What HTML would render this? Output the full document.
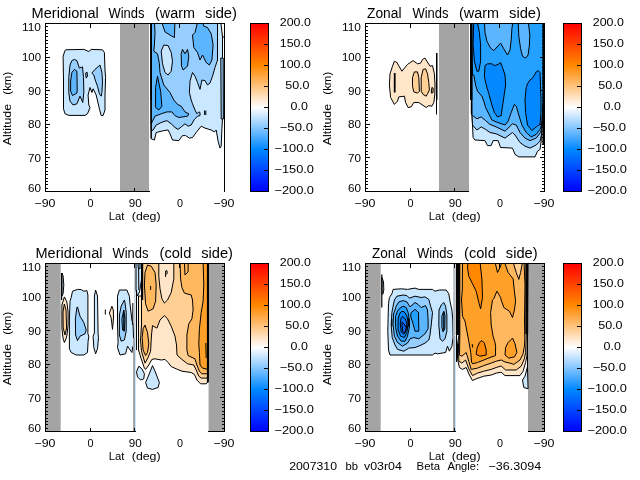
<!DOCTYPE html>
<html><head><meta charset="utf-8"><title>Winds</title>
<style>html,body{margin:0;padding:0;background:#fff;overflow:hidden}svg{display:block}</style></head>
<body>
<svg width="640" height="480" viewBox="0 0 640 480" font-family='"Liberation Sans", sans-serif' fill="#000" shape-rendering="crispEdges">
<defs><linearGradient id="cb" x1="0" y1="0" x2="0" y2="1"><stop offset="0.0000" stop-color="#ff0000"/><stop offset="0.0625" stop-color="#ff2200"/><stop offset="0.1250" stop-color="#ff4400"/><stop offset="0.1875" stop-color="#ff6600"/><stop offset="0.2500" stop-color="#ff8800"/><stop offset="0.3125" stop-color="#ffa640"/><stop offset="0.3750" stop-color="#ffc480"/><stop offset="0.4375" stop-color="#ffe1bf"/><stop offset="0.5000" stop-color="#ffffff"/><stop offset="0.5625" stop-color="#bfe1ff"/><stop offset="0.6250" stop-color="#80c4ff"/><stop offset="0.6875" stop-color="#40a6ff"/><stop offset="0.7500" stop-color="#0088ff"/><stop offset="0.8125" stop-color="#0066ff"/><stop offset="0.8750" stop-color="#0044ff"/><stop offset="0.9375" stop-color="#0022ff"/><stop offset="1.0000" stop-color="#0000ff"/></linearGradient></defs>
<rect width="640" height="480" fill="#fff"/>
<g id="p1">
<clipPath id="cp1"><rect x="45.5" y="23.5" width="179" height="168"/></clipPath>
<g clip-path="url(#cp1)" shape-rendering="auto" stroke-linejoin="round">
<rect x="120" y="23.5" width="29.00" height="168.00" fill="#a4a4a4"/>
<path d="M65.6 49.8 L83.8 49.4 L88.8 51.5 L91.2 49.4 L102.5 49.8 L104.4 52.5 L105.0 70.0 L105.6 77.5 L105.0 95.0 L105.0 110.0 L103.1 115.6 L101.2 115.6 L99.4 108.8 L96.2 95.0 L93.1 88.8 L91.9 92.5 L90.0 87.5 L88.1 95.0 L88.8 105.0 L90.0 107.5 L87.5 113.8 L85.0 115.4 L68.8 115.4 L65.0 113.8 L63.5 108.8 L63.5 80.0 L63.1 56.2 L65.0 50.6Z" fill="#c9e7ff" stroke="#000" stroke-width="1"/>
<path d="M74.4 59.4 L76.9 60.6 L79.4 68.1 L82.5 66.9 L83.5 77.5 L83.8 90.0 L83.8 92.5 L82.8 102.5 L80.0 96.2 L76.9 103.8 L73.1 105.0 L70.0 101.2 L68.8 92.5 L68.8 77.5 L70.0 65.0 L71.9 60.6Z" fill="#96cfff" stroke="#000" stroke-width="1"/>
<path d="M74.4 69.4 L76.9 71.2 L77.2 90.0 L76.9 93.1 L72.5 95.6 L70.6 91.2 L70.6 81.2 L71.9 72.5Z" fill="#5cb6ff" stroke="#000" stroke-width="1"/>
<path d="M85.6 73.1 L87.1 72.2 L87.5 76.2 L86.2 78.1Z" fill="#96cfff" stroke="#000" stroke-width="1"/>
<path d="M100.0 65.0 L101.9 72.5 L102.5 81.2 L101.9 92.5 L101.2 96.2 L99.4 93.8 L97.5 86.2 L95.6 81.2 L93.8 75.0 L91.9 73.1 L95.0 69.4Z" fill="#96cfff" stroke="#000" stroke-width="1"/>
<path d="M151.0 20.0 L222.5 20.0 L222.5 118.8 L221.9 128.8 L221.2 146.2 L220.0 148.1 L218.1 141.2 L216.2 130.0 L214.4 131.9 L211.2 130.0 L205.0 128.1 L201.2 126.2 L196.2 132.5 L192.5 137.5 L189.4 138.1 L185.6 135.6 L182.5 135.6 L178.8 140.6 L172.5 140.0 L170.0 133.8 L168.1 130.0 L163.8 130.6 L156.2 132.5 L154.4 140.0 L151.2 138.8Z" fill="#c9e7ff" stroke="#000" stroke-width="1"/>
<path d="M151.0 20.0 L217.5 20.0 L217.5 60.0 L215.0 67.5 L212.5 76.2 L210.0 83.0 L207.5 85.0 L205.0 80.6 L201.9 80.0 L200.0 89.4 L197.5 82.5 L195.0 76.2 L192.5 72.5 L190.0 81.2 L189.4 92.5 L191.2 100.0 L192.5 103.8 L195.0 110.0 L196.9 113.8 L198.8 111.9 L200.0 112.5 L200.0 115.6 L197.5 116.2 L194.4 119.4 L191.2 125.0 L188.1 126.2 L185.0 123.8 L181.2 126.9 L178.1 129.4 L175.0 127.5 L171.2 123.8 L166.9 120.6 L161.2 122.5 L156.2 125.0 L153.1 130.0 L151.2 131.2Z" fill="#96cfff" stroke="#000" stroke-width="1"/>
<path d="M151.0 20.0 L154.4 20.0 L155.0 32.5 L154.4 45.0 L153.8 51.2 L157.5 53.8 L159.4 63.8 L160.0 72.5 L163.8 85.0 L170.0 92.5 L173.8 100.0 L177.5 104.4 L181.2 106.2 L185.0 111.9 L188.8 113.8 L187.5 116.2 L178.8 117.5 L175.0 115.6 L171.9 111.9 L166.9 111.9 L161.2 113.8 L155.0 116.2 L152.5 121.2 L151.2 123.8Z" fill="#5cb6ff" stroke="#000" stroke-width="1"/>
<path d="M157.5 76.2 L160.6 91.2 L161.9 106.2 L158.8 110.0 L155.6 107.5 L155.6 87.5Z" fill="#24a0ff" stroke="#000" stroke-width="1"/>
<path d="M161.0 20.0 L175.0 20.0 L174.4 37.5 L171.9 36.2 L165.0 31.9Z" fill="#5cb6ff" stroke="#000" stroke-width="1"/>
<path d="M198.1 20.0 L195.0 32.5 L192.5 35.0 L193.8 47.5 L197.5 52.5 L200.0 60.0 L202.5 55.0 L206.2 62.5 L209.4 65.0 L211.9 60.0 L213.1 45.0 L211.2 33.8 L207.5 27.5 L203.8 26.2 L201.9 20.0Z" fill="#5cb6ff" stroke="#000" stroke-width="1"/>
<path d="M182.5 49.4 L185.0 53.8 L187.5 49.4 L188.8 56.2 L187.5 66.2 L183.1 70.0 L181.5 66.2 L181.2 53.8Z" fill="#5cb6ff" stroke="#000" stroke-width="1"/>
<path d="M163.8 45.0 L168.1 45.6 L171.2 52.5 L172.5 61.2 L171.2 71.2 L168.1 75.0 L165.0 72.5 L162.5 63.8 L161.2 51.2Z" fill="#c9e7ff" stroke="#000" stroke-width="1"/>
<path d="M204.6 110.5 L204.6 115.0" fill="none" stroke="#000" stroke-width="1"/>
<path d="M205.8 110.5 L205.8 115.0" fill="none" stroke="#000" stroke-width="1"/>
<path d="M220.6 20.0 L226.0 20.0 L226.0 37.0 L222.5 37.0Z" fill="#fff" stroke="#000" stroke-width="1"/>
<path d="M220.8 58.0 L223.2 58.0 L223.4 119.0 L221.2 119.0Z" fill="#96cfff" stroke="#000" stroke-width="1"/>
<rect x="150.2" y="23.5" width="1.80" height="76.50" fill="#000"/>
<rect x="150.6" y="100" width="1.20" height="38.50" fill="#000"/>
</g>
<path d="M45.5 191.5V23.5H224.5V191.5M45.5 191.5H149" fill="none" stroke="#000" stroke-width="1" stroke-linecap="square"/>
<path d="M45.5 23.5h4.5M45.5 26.5h2.5M45.5 30.5h2.5M45.5 33.5h2.5M45.5 36.5h2.5M45.5 40.5h2.5M45.5 43.5h2.5M45.5 47.5h2.5M45.5 50.5h2.5M45.5 53.5h2.5M45.5 57.5h4.5M45.5 60.5h2.5M45.5 63.5h2.5M45.5 67.5h2.5M45.5 70.5h2.5M45.5 73.5h2.5M45.5 77.5h2.5M45.5 80.5h2.5M45.5 83.5h2.5M45.5 87.5h2.5M45.5 90.5h4.5M45.5 94.5h2.5M45.5 97.5h2.5M45.5 100.5h2.5M45.5 104.5h2.5M45.5 107.5h2.5M45.5 110.5h2.5M45.5 114.5h2.5M45.5 117.5h2.5M45.5 120.5h2.5M45.5 124.5h4.5M45.5 127.5h2.5M45.5 131.5h2.5M45.5 134.5h2.5M45.5 137.5h2.5M45.5 141.5h2.5M45.5 144.5h2.5M45.5 147.5h2.5M45.5 151.5h2.5M45.5 154.5h2.5M45.5 157.5h4.5M45.5 161.5h2.5M45.5 164.5h2.5M45.5 167.5h2.5M45.5 171.5h2.5M45.5 174.5h2.5M45.5 178.5h2.5M45.5 181.5h2.5M45.5 184.5h2.5M45.5 188.5h2.5M45.5 191.5h4.5M90.5 23.5v4M90.5 191.5v-4M134.5 23.5v4M134.5 191.5v-4M179.5 23.5v4" stroke="#000" stroke-width="1" fill="none"/>
<text x="22.0" y="30.8" font-size="11" textLength="19.0" lengthAdjust="spacingAndGlyphs">110</text>
<text x="22.0" y="61.1" font-size="11" textLength="19.0" lengthAdjust="spacingAndGlyphs">100</text>
<text x="28.0" y="94.7" font-size="11" textLength="13.0" lengthAdjust="spacingAndGlyphs">90</text>
<text x="28.0" y="128.3" font-size="11" textLength="13.0" lengthAdjust="spacingAndGlyphs">80</text>
<text x="28.0" y="161.9" font-size="11" textLength="13.0" lengthAdjust="spacingAndGlyphs">70</text>
<text x="28.0" y="191.8" font-size="11" textLength="13.0" lengthAdjust="spacingAndGlyphs">60</text>
<text x="34.5" y="206.7" font-size="11" textLength="21.0" lengthAdjust="spacingAndGlyphs">−90</text>
<text x="87.5" y="206.7" font-size="11" textLength="6.0" lengthAdjust="spacingAndGlyphs">0</text>
<text x="128.8" y="206.7" font-size="11" textLength="13.0" lengthAdjust="spacingAndGlyphs">90</text>
<text x="177.1" y="206.7" font-size="11" textLength="6.0" lengthAdjust="spacingAndGlyphs">0</text>
<text x="213.5" y="206.7" font-size="11" textLength="21.0" lengthAdjust="spacingAndGlyphs">−90</text>
<text y="220.2" font-size="11"><tspan x="108.8" textLength="15.7" lengthAdjust="spacingAndGlyphs">Lat</tspan> <tspan x="131.8" textLength="28.8" lengthAdjust="spacingAndGlyphs">(deg)</tspan></text>
<text y="11.0" font-size="11" transform="rotate(-90)"><tspan x="-145.2" textLength="41.3" lengthAdjust="spacingAndGlyphs">Altitude</tspan> <tspan x="-94.7" textLength="22.9" lengthAdjust="spacingAndGlyphs">(km)</tspan></text>
<text y="17.6" font-size="14"><tspan x="31.6" textLength="67.2" lengthAdjust="spacingAndGlyphs">Meridional</tspan> <tspan x="108.5" textLength="36.0" lengthAdjust="spacingAndGlyphs">Winds</tspan> <tspan x="155.0" textLength="40.0" lengthAdjust="spacingAndGlyphs">(warm</tspan> <tspan x="205.0" textLength="32.0" lengthAdjust="spacingAndGlyphs">side)</tspan></text>
<rect x="250.5" y="23.5" width="18" height="168" fill="url(#cb)" stroke="#000" stroke-width="1"/>
<path d="M268.5 44.5h-5M268.5 65.5h-5M268.5 86.5h-5M268.5 107.5h-5M268.5 128.5h-5M268.5 149.5h-5M268.5 170.5h-5" stroke="#000" stroke-width="1" fill="none"/>
<text x="279.8" y="25.5" font-size="11" textLength="31.0" lengthAdjust="spacingAndGlyphs">200.0</text>
<text x="279.8" y="46.5" font-size="11" textLength="31.0" lengthAdjust="spacingAndGlyphs">150.0</text>
<text x="279.8" y="67.5" font-size="11" textLength="31.0" lengthAdjust="spacingAndGlyphs">100.0</text>
<text x="285.2" y="88.5" font-size="11" textLength="24.4" lengthAdjust="spacingAndGlyphs">50.0</text>
<text x="290.6" y="109.5" font-size="11" textLength="17.3" lengthAdjust="spacingAndGlyphs">0.0</text>
<text x="279.7" y="130.5" font-size="11" textLength="33.3" lengthAdjust="spacingAndGlyphs">−50.0</text>
<text x="274.4" y="151.5" font-size="11" textLength="39.6" lengthAdjust="spacingAndGlyphs">−100.0</text>
<text x="274.4" y="172.5" font-size="11" textLength="39.6" lengthAdjust="spacingAndGlyphs">−150.0</text>
<text x="274.4" y="193.5" font-size="11" textLength="39.6" lengthAdjust="spacingAndGlyphs">−200.0</text>
</g>
<g id="p2">
<clipPath id="cp2"><rect x="365.5" y="23.5" width="179" height="168"/></clipPath>
<g clip-path="url(#cp2)" shape-rendering="auto" stroke-linejoin="round">
<rect x="439" y="23.5" width="30.00" height="168.00" fill="#a4a4a4"/>
<path d="M394.4 61.2 L396.9 62.5 L401.9 71.2 L407.5 64.4 L413.1 60.6 L417.5 63.8 L420.6 63.1 L422.5 59.4 L425.0 58.1 L426.9 61.2 L430.0 66.2 L432.5 65.6 L434.4 73.8 L435.0 85.0 L434.8 95.0 L433.8 102.5 L431.9 106.2 L428.8 105.6 L426.2 107.5 L418.8 102.5 L413.8 102.5 L411.2 106.9 L408.1 107.5 L405.6 102.5 L404.4 96.2 L398.8 96.9 L397.5 101.2 L394.4 104.4 L390.6 97.5 L389.4 85.0 L390.0 73.8 L392.5 66.2Z" fill="#ffe6c8" stroke="#000" stroke-width="1"/>
<path d="M414.4 71.9 L417.5 71.9 L418.8 77.5 L419.4 91.2 L417.5 93.1 L413.8 91.9 L412.5 86.2 L412.5 77.5Z" fill="#ffcf94" stroke="#000" stroke-width="1"/>
<path d="M423.1 69.4 L425.6 68.8 L427.5 73.8 L428.8 82.5 L429.4 90.0 L427.5 93.8 L426.2 96.2 L423.1 94.4 L421.2 91.2 L421.2 77.5Z" fill="#ffcf94" stroke="#000" stroke-width="1"/>
<path d="M431.9 87.5 L433.1 88.1 L433.1 92.5 L431.2 93.1Z" fill="#ffcf94" stroke="#000" stroke-width="1"/>
<rect x="393.8" y="73" width="1.80" height="19.50" fill="#000"/>
<rect x="436" y="53" width="1.50" height="47.00" fill="#000"/>
<rect x="436" y="100" width="1.00" height="14.50" fill="#000"/>
<path d="M471.5 20.0 L543.5 20.0 L543.5 100.0 L541.9 125.0 L541.2 141.2 L540.0 149.4 L537.5 151.2 L535.0 156.9 L518.8 156.9 L515.0 154.4 L512.5 148.1 L500.6 147.5 L498.1 140.6 L493.1 140.6 L491.2 145.6 L487.5 145.6 L485.0 140.6 L475.0 140.0 L473.1 137.5 L472.5 125.0 L471.9 112.5Z" fill="#c9e7ff" stroke="#000" stroke-width="1"/>
<path d="M471.5 20.0 L543.5 20.0 L543.5 100.0 L541.5 135.0 L540.0 141.2 L536.2 145.0 L530.0 148.1 L525.0 146.2 L520.0 142.5 L515.0 135.0 L512.5 132.5 L505.0 138.1 L496.2 133.8 L490.0 132.5 L485.6 129.4 L481.2 126.9 L476.9 130.0 L472.5 125.0 L471.9 112.5Z" fill="#96cfff" stroke="#000" stroke-width="1"/>
<path d="M471.5 20.0 L543.5 20.0 L543.5 100.0 L541.5 128.8 L540.6 132.5 L536.2 138.1 L530.0 140.6 L525.0 138.1 L520.0 132.5 L516.2 125.0 L512.5 123.8 L505.0 131.2 L496.2 126.9 L490.0 124.4 L485.6 120.6 L481.2 116.9 L476.9 118.8 L471.9 115.0Z" fill="#5cb6ff" stroke="#000" stroke-width="1"/>
<path d="M471.5 20.0 L543.5 20.0 L543.5 100.0 L541.5 125.0 L540.0 129.4 L536.2 134.4 L531.2 136.9 L526.2 132.5 L521.9 125.0 L518.8 115.0 L516.2 106.2 L514.4 104.4 L511.2 112.5 L508.1 121.2 L505.0 125.0 L496.2 121.9 L491.9 120.0 L489.4 115.0 L485.6 107.5 L483.8 101.2 L481.9 96.2 L477.5 91.2 L475.6 85.0 L473.8 75.0 L472.5 75.0Z" fill="#24a0ff" stroke="#000" stroke-width="1"/>
<path d="M484.4 20.0 L485.0 32.5 L486.9 41.2 L490.6 48.1 L493.8 50.6 L500.6 43.1 L503.8 48.8 L507.5 55.0 L510.0 50.0 L511.2 40.0 L511.9 28.8 L513.1 20.0Z" fill="#5cb6ff" stroke="#000" stroke-width="1"/>
<path d="M518.1 20.0 L518.8 36.2 L520.6 48.8 L522.5 56.2 L525.6 58.1 L528.1 55.0 L529.4 45.0 L529.8 35.0 L528.1 20.0Z" fill="#5cb6ff" stroke="#000" stroke-width="1"/>
<path d="M473.8 20.0 L476.9 20.0 L479.4 32.5 L480.6 45.0 L480.6 61.2 L478.8 71.2 L476.9 71.2 L474.4 61.2 L473.1 45.0Z" fill="#0488ff" stroke="#000" stroke-width="1"/>
<path d="M485.0 65.6 L487.5 63.8 L491.9 63.8 L494.4 65.6 L498.1 64.4 L500.6 62.5 L502.5 67.5 L505.0 75.0 L505.6 85.0 L503.8 97.5 L502.5 106.2 L501.2 115.6 L497.5 116.9 L494.4 112.5 L491.9 105.0 L488.8 93.8 L485.6 82.5 L484.4 76.2Z" fill="#0488ff" stroke="#000" stroke-width="1"/>
<path d="M538.1 70.6 L540.0 72.5 L541.0 100.0 L541.0 112.5 L540.0 124.4 L536.2 126.9 L531.9 130.6 L527.5 125.0 L525.6 112.5 L525.0 100.0 L526.2 87.5 L527.5 83.8 L530.0 80.0 L533.1 77.5 L536.2 71.9Z" fill="#0488ff" stroke="#000" stroke-width="1"/>
<rect x="470" y="23.5" width="2.50" height="76.50" fill="#000"/>
<rect x="470.8" y="100" width="1.40" height="14.00" fill="#000"/>
<rect x="542.4" y="23.5" width="2.10" height="121.50" fill="#000"/>
</g>
<path d="M365.5 191.5V23.5H544.5V191.5M365.5 191.5H468.7" fill="none" stroke="#000" stroke-width="1" stroke-linecap="square"/>
<path d="M365.5 23.5h4.5M544.5 23.5h-4.5M365.5 26.5h2.5M544.5 26.5h-2.5M365.5 30.5h2.5M544.5 30.5h-2.5M365.5 33.5h2.5M544.5 33.5h-2.5M365.5 36.5h2.5M544.5 36.5h-2.5M365.5 40.5h2.5M544.5 40.5h-2.5M365.5 43.5h2.5M544.5 43.5h-2.5M365.5 47.5h2.5M544.5 47.5h-2.5M365.5 50.5h2.5M544.5 50.5h-2.5M365.5 53.5h2.5M544.5 53.5h-2.5M365.5 57.5h4.5M544.5 57.5h-4.5M365.5 60.5h2.5M544.5 60.5h-2.5M365.5 63.5h2.5M544.5 63.5h-2.5M365.5 67.5h2.5M544.5 67.5h-2.5M365.5 70.5h2.5M544.5 70.5h-2.5M365.5 73.5h2.5M544.5 73.5h-2.5M365.5 77.5h2.5M544.5 77.5h-2.5M365.5 80.5h2.5M544.5 80.5h-2.5M365.5 83.5h2.5M544.5 83.5h-2.5M365.5 87.5h2.5M544.5 87.5h-2.5M365.5 90.5h4.5M544.5 90.5h-4.5M365.5 94.5h2.5M544.5 94.5h-2.5M365.5 97.5h2.5M544.5 97.5h-2.5M365.5 100.5h2.5M544.5 100.5h-2.5M365.5 104.5h2.5M544.5 104.5h-2.5M365.5 107.5h2.5M544.5 107.5h-2.5M365.5 110.5h2.5M544.5 110.5h-2.5M365.5 114.5h2.5M544.5 114.5h-2.5M365.5 117.5h2.5M544.5 117.5h-2.5M365.5 120.5h2.5M544.5 120.5h-2.5M365.5 124.5h4.5M544.5 124.5h-4.5M365.5 127.5h2.5M544.5 127.5h-2.5M365.5 131.5h2.5M544.5 131.5h-2.5M365.5 134.5h2.5M544.5 134.5h-2.5M365.5 137.5h2.5M544.5 137.5h-2.5M365.5 141.5h2.5M544.5 141.5h-2.5M365.5 144.5h2.5M544.5 144.5h-2.5M365.5 147.5h2.5M544.5 147.5h-2.5M365.5 151.5h2.5M544.5 151.5h-2.5M365.5 154.5h2.5M544.5 154.5h-2.5M365.5 157.5h4.5M544.5 157.5h-4.5M365.5 161.5h2.5M544.5 161.5h-2.5M365.5 164.5h2.5M544.5 164.5h-2.5M365.5 167.5h2.5M544.5 167.5h-2.5M365.5 171.5h2.5M544.5 171.5h-2.5M365.5 174.5h2.5M544.5 174.5h-2.5M365.5 178.5h2.5M544.5 178.5h-2.5M365.5 181.5h2.5M544.5 181.5h-2.5M365.5 184.5h2.5M544.5 184.5h-2.5M365.5 188.5h2.5M544.5 188.5h-2.5M365.5 191.5h4.5M544.5 191.5h-4.5M410.5 23.5v4M410.5 191.5v-4M454.5 23.5v4M454.5 191.5v-4M499.5 23.5v4" stroke="#000" stroke-width="1" fill="none"/>
<text x="342.0" y="30.8" font-size="11" textLength="19.0" lengthAdjust="spacingAndGlyphs">110</text>
<text x="342.0" y="61.1" font-size="11" textLength="19.0" lengthAdjust="spacingAndGlyphs">100</text>
<text x="348.0" y="94.7" font-size="11" textLength="13.0" lengthAdjust="spacingAndGlyphs">90</text>
<text x="348.0" y="128.3" font-size="11" textLength="13.0" lengthAdjust="spacingAndGlyphs">80</text>
<text x="348.0" y="161.9" font-size="11" textLength="13.0" lengthAdjust="spacingAndGlyphs">70</text>
<text x="348.0" y="191.8" font-size="11" textLength="13.0" lengthAdjust="spacingAndGlyphs">60</text>
<text x="354.5" y="206.7" font-size="11" textLength="21.0" lengthAdjust="spacingAndGlyphs">−90</text>
<text x="407.6" y="206.7" font-size="11" textLength="6.0" lengthAdjust="spacingAndGlyphs">0</text>
<text x="448.8" y="206.7" font-size="11" textLength="13.0" lengthAdjust="spacingAndGlyphs">90</text>
<text x="497.1" y="206.7" font-size="11" textLength="6.0" lengthAdjust="spacingAndGlyphs">0</text>
<text x="533.5" y="206.7" font-size="11" textLength="21.0" lengthAdjust="spacingAndGlyphs">−90</text>
<text y="220.2" font-size="11"><tspan x="428.8" textLength="15.7" lengthAdjust="spacingAndGlyphs">Lat</tspan> <tspan x="451.8" textLength="28.8" lengthAdjust="spacingAndGlyphs">(deg)</tspan></text>
<text y="331.0" font-size="11" transform="rotate(-90)"><tspan x="-145.2" textLength="41.3" lengthAdjust="spacingAndGlyphs">Altitude</tspan> <tspan x="-94.7" textLength="22.9" lengthAdjust="spacingAndGlyphs">(km)</tspan></text>
<text y="17.6" font-size="14"><tspan x="367.0" textLength="34.5" lengthAdjust="spacingAndGlyphs">Zonal</tspan> <tspan x="412.5" textLength="36.0" lengthAdjust="spacingAndGlyphs">Winds</tspan> <tspan x="459.0" textLength="40.0" lengthAdjust="spacingAndGlyphs">(warm</tspan> <tspan x="509.0" textLength="32.0" lengthAdjust="spacingAndGlyphs">side)</tspan></text>
<rect x="563.5" y="23.5" width="18" height="168" fill="url(#cb)" stroke="#000" stroke-width="1"/>
<path d="M581.5 44.5h-5M581.5 65.5h-5M581.5 86.5h-5M581.5 107.5h-5M581.5 128.5h-5M581.5 149.5h-5M581.5 170.5h-5" stroke="#000" stroke-width="1" fill="none"/>
<text x="592.8" y="25.5" font-size="11" textLength="31.0" lengthAdjust="spacingAndGlyphs">200.0</text>
<text x="592.8" y="46.5" font-size="11" textLength="31.0" lengthAdjust="spacingAndGlyphs">150.0</text>
<text x="592.8" y="67.5" font-size="11" textLength="31.0" lengthAdjust="spacingAndGlyphs">100.0</text>
<text x="598.2" y="88.5" font-size="11" textLength="24.4" lengthAdjust="spacingAndGlyphs">50.0</text>
<text x="603.6" y="109.5" font-size="11" textLength="17.3" lengthAdjust="spacingAndGlyphs">0.0</text>
<text x="592.7" y="130.5" font-size="11" textLength="33.3" lengthAdjust="spacingAndGlyphs">−50.0</text>
<text x="587.4" y="151.5" font-size="11" textLength="39.6" lengthAdjust="spacingAndGlyphs">−100.0</text>
<text x="587.4" y="172.5" font-size="11" textLength="39.6" lengthAdjust="spacingAndGlyphs">−150.0</text>
<text x="587.4" y="193.5" font-size="11" textLength="39.6" lengthAdjust="spacingAndGlyphs">−200.0</text>
</g>
<g id="p3">
<clipPath id="cp3"><rect x="45.5" y="263.5" width="179" height="168"/></clipPath>
<g clip-path="url(#cp3)" shape-rendering="auto" stroke-linejoin="round">
<rect x="45" y="263.5" width="15.70" height="168.00" fill="#a4a4a4"/>
<rect x="208.6" y="263.5" width="16.40" height="168.00" fill="#a4a4a4"/>
<path d="M61.9 273.0 L63.1 276.0 L63.8 285.0 L63.1 293.8 L61.9 296.0Z" fill="#c9e7ff" stroke="#000" stroke-width="1"/>
<rect x="61" y="273" width="1.20" height="27.00" fill="#000"/>
<path d="M64.4 296.9 L66.9 302.0 L68.1 312.0 L68.1 325.0 L67.0 335.0 L65.6 340.0 L64.4 342.5 L63.0 338.0 L61.9 328.0 L61.9 305.0Z" fill="#ffe6c8" stroke="#000" stroke-width="1"/>
<path d="M64.3 304.0 L66.0 310.0 L66.6 328.0 L65.0 335.0 L63.2 328.0 L63.0 312.0Z" fill="#ffcf94" stroke="#000" stroke-width="1"/>
<path d="M77.5 289.4 L72.5 291.2 L71.2 297.5 L70.0 301.2 L69.4 320.0 L69.4 348.8 L71.2 352.5 L76.2 355.0 L83.8 355.0 L87.5 352.5 L88.1 341.2 L88.8 336.2 L87.9 333.8 L87.9 295.0 L86.9 290.6 L83.8 291.2 L81.2 289.6Z" fill="#c9e7ff" stroke="#000" stroke-width="1"/>
<path d="M77.5 306.9 L80.0 316.2 L83.8 322.5 L86.2 330.0 L85.0 333.8 L80.0 336.2 L77.5 340.6 L75.6 335.0 L75.4 318.8 L76.9 307.5Z" fill="#96cfff" stroke="#000" stroke-width="1"/>
<path d="M95.6 290.0 L97.5 296.0 L98.1 333.8 L98.5 337.5 L97.5 348.8 L95.6 353.8 L93.8 347.5 L93.1 336.2 L94.4 333.0 L94.4 296.0Z" fill="#c9e7ff" stroke="#000" stroke-width="1"/>
<path d="M111.9 306.2 L113.3 310.0 L113.5 318.0 L112.5 329.4 L111.2 318.0 L109.4 313.1Z" fill="#ffe6c8" stroke="#000" stroke-width="1"/>
<path d="M105.3 309.5 L105.3 314.5" fill="none" stroke="#000" stroke-width="1"/>
<path d="M119.4 290.0 L126.9 290.0 L129.4 296.2 L130.0 303.8 L131.9 320.0 L133.1 325.0 L133.8 345.0 L132.8 346.9 L131.9 352.5 L129.4 348.8 L127.5 346.2 L125.6 353.8 L120.0 355.0 L117.5 347.5 L118.1 342.5 L117.5 325.0 L117.5 300.0 L117.5 296.2Z" fill="#c9e7ff" stroke="#000" stroke-width="1"/>
<path d="M124.4 300.0 L125.0 302.5 L126.2 312.5 L126.2 331.2 L124.4 340.0 L121.2 341.2 L119.4 335.0 L119.4 315.0 L121.2 306.2Z" fill="#96cfff" stroke="#000" stroke-width="1"/>
<path d="M123.8 310.0 L125.0 318.8 L124.4 331.2 L122.5 330.0 L121.9 318.8Z" fill="#5cb6ff" stroke="#000" stroke-width="1"/>
<rect x="123.2" y="311" width="1.10" height="20.00" fill="#000"/>
<path d="M132.8 303.0 L132.8 325.0" fill="none" stroke="#000" stroke-width="1"/>
<rect x="134" y="263.5" width="1.60" height="74.50" fill="#c4d0dc"/>
<rect x="133" y="338" width="2.00" height="93.50" fill="#a4a4a4"/>
<rect x="135" y="338" width="1.00" height="93.50" fill="#c4e4ff"/>
<path d="M136.0 262.0 L141.5 262.0 L141.5 280.0 L139.5 292.0 L137.5 296.0 L136.0 290.0Z" fill="#c9e7ff" stroke="#000" stroke-width="1"/>
<path d="M138.0 262.0 L140.0 262.0 L140.0 268.8 L138.2 268.0Z" fill="#96cfff" stroke="#000" stroke-width="1"/>
<path d="M138.6 268.0 L138.8 290.0" fill="none" stroke="#000" stroke-width="1"/>
<path d="M136.5 290.0 L136.5 350.0" fill="none" stroke="#000" stroke-width="1"/>
<path d="M142.5 262.0 L208.1 262.0 L208.1 381.2 L206.2 383.8 L200.6 383.8 L196.9 380.0 L194.4 374.4 L191.2 372.5 L181.9 371.2 L176.2 368.8 L171.2 366.6 L168.1 362.5 L165.0 359.4 L161.2 360.0 L155.0 358.8 L151.9 359.4 L148.8 365.0 L145.6 369.4 L144.4 368.1 L141.2 358.8 L138.5 350.0 L138.5 337.5 L138.5 296.0 L142.5 296.0Z" fill="#ffe6c8" stroke="#000" stroke-width="1"/>
<path d="M141.5 262.0 L208.0 262.0 L208.0 378.1 L201.2 378.1 L198.8 376.2 L196.2 370.0 L193.8 365.0 L187.5 363.8 L181.2 358.8 L177.0 355.0 L176.5 345.0 L175.0 336.2 L171.2 326.2 L167.5 318.8 L164.4 315.6 L160.0 320.0 L156.9 328.1 L152.5 325.6 L151.5 335.0 L151.2 340.0 L150.6 351.2 L148.1 357.5 L145.0 363.1 L141.5 351.2 L140.5 340.0 L141.5 325.0 L141.5 262.0Z" fill="#ffcf94" stroke="#000" stroke-width="1"/>
<path d="M158.8 262.0 L173.8 262.0 L173.8 278.8 L171.2 292.5 L167.5 300.0 L164.4 303.1 L161.9 298.8 L160.0 288.8 L158.8 276.2Z" fill="#ffe6c8" stroke="#000" stroke-width="1"/>
<path d="M165.6 277.0 L165.6 271.0 L167.0 270.6 L167.2 273.5 L165.8 274.5" fill="none" stroke="#000" stroke-width="1"/>
<path d="M180.0 262.0 L180.6 278.8 L181.9 287.5 L184.4 293.1 L191.2 295.0 L192.5 300.0 L193.1 310.0 L191.9 318.8 L188.8 323.8 L186.9 335.0 L186.9 350.0 L188.1 355.6 L195.0 358.8 L196.9 365.0 L199.4 371.2 L201.9 373.8 L208.0 373.8 L208.0 262.0Z" fill="#ffb85e" stroke="#000" stroke-width="1"/>
<path d="M184.4 262.0 L185.0 275.0 L188.1 271.9 L188.1 262.0Z" fill="#ffb85e" stroke="#000" stroke-width="1"/>
<path d="M203.1 262.0 L203.8 285.0 L203.1 301.2 L201.2 312.5 L199.4 328.8 L198.8 343.8 L199.4 352.5 L200.0 365.0 L202.5 368.1 L208.0 369.4 L208.0 262.0Z" fill="#ffa028" stroke="#000" stroke-width="1"/>
<path d="M205.8 343.0 L206.2 358.0" fill="none" stroke="#000" stroke-width="1"/>
<path d="M147.5 265.0 L151.2 266.2 L155.0 272.5 L156.2 285.0 L155.6 301.2 L153.1 308.8 L148.1 311.2 L145.6 303.8 L144.4 285.0 L145.0 272.5Z" fill="#ffb85e" stroke="#000" stroke-width="1"/>
<path d="M150.6 286.0 L150.6 290.0" fill="none" stroke="#000" stroke-width="1"/>
<path d="M145.0 325.0 L147.5 332.5 L148.8 343.8 L147.5 352.5 L145.6 355.6 L143.1 350.0 L142.2 337.5 L143.1 328.8Z" fill="#ffb85e" stroke="#000" stroke-width="1"/>
<rect x="141.2" y="263.5" width="2.00" height="36.50" fill="#000"/>
<rect x="206.9" y="263.5" width="1.85" height="119.00" fill="#000"/>
<path d="M138.8 366.2 L141.9 368.8 L144.4 373.8 L143.8 378.8 L140.6 380.0 L137.5 376.9 L136.5 371.9Z" fill="#c9e7ff" stroke="#000" stroke-width="1"/>
<path d="M152.5 365.6 L155.0 371.2 L159.4 382.5 L158.1 387.5 L152.5 389.4 L147.5 388.1 L145.6 382.5 L148.8 375.0Z" fill="#c9e7ff" stroke="#000" stroke-width="1"/>
</g>
<path d="M45.5 431.5V263.5H224.5V431.5M45.5 431.5H135M208.5 431.5H224.5" fill="none" stroke="#000" stroke-width="1" stroke-linecap="square"/>
<path d="M45.5 263.5h4.5M224.5 263.5h-4.5M45.5 266.5h2.5M224.5 266.5h-2.5M45.5 270.5h2.5M224.5 270.5h-2.5M45.5 273.5h2.5M224.5 273.5h-2.5M45.5 276.5h2.5M224.5 276.5h-2.5M45.5 280.5h2.5M224.5 280.5h-2.5M45.5 283.5h2.5M224.5 283.5h-2.5M45.5 287.5h2.5M224.5 287.5h-2.5M45.5 290.5h2.5M224.5 290.5h-2.5M45.5 293.5h2.5M224.5 293.5h-2.5M45.5 297.5h4.5M224.5 297.5h-4.5M45.5 300.5h2.5M224.5 300.5h-2.5M45.5 303.5h2.5M224.5 303.5h-2.5M45.5 307.5h2.5M224.5 307.5h-2.5M45.5 310.5h2.5M224.5 310.5h-2.5M45.5 313.5h2.5M224.5 313.5h-2.5M45.5 317.5h2.5M224.5 317.5h-2.5M45.5 320.5h2.5M224.5 320.5h-2.5M45.5 323.5h2.5M224.5 323.5h-2.5M45.5 327.5h2.5M224.5 327.5h-2.5M45.5 330.5h4.5M224.5 330.5h-4.5M45.5 334.5h2.5M224.5 334.5h-2.5M45.5 337.5h2.5M224.5 337.5h-2.5M45.5 340.5h2.5M224.5 340.5h-2.5M45.5 344.5h2.5M224.5 344.5h-2.5M45.5 347.5h2.5M224.5 347.5h-2.5M45.5 350.5h2.5M224.5 350.5h-2.5M45.5 354.5h2.5M224.5 354.5h-2.5M45.5 357.5h2.5M224.5 357.5h-2.5M45.5 360.5h2.5M224.5 360.5h-2.5M45.5 364.5h4.5M224.5 364.5h-4.5M45.5 367.5h2.5M224.5 367.5h-2.5M45.5 371.5h2.5M224.5 371.5h-2.5M45.5 374.5h2.5M224.5 374.5h-2.5M45.5 377.5h2.5M224.5 377.5h-2.5M45.5 381.5h2.5M224.5 381.5h-2.5M45.5 384.5h2.5M224.5 384.5h-2.5M45.5 387.5h2.5M224.5 387.5h-2.5M45.5 391.5h2.5M224.5 391.5h-2.5M45.5 394.5h2.5M224.5 394.5h-2.5M45.5 397.5h4.5M224.5 397.5h-4.5M45.5 401.5h2.5M224.5 401.5h-2.5M45.5 404.5h2.5M224.5 404.5h-2.5M45.5 407.5h2.5M224.5 407.5h-2.5M45.5 411.5h2.5M224.5 411.5h-2.5M45.5 414.5h2.5M224.5 414.5h-2.5M45.5 418.5h2.5M224.5 418.5h-2.5M45.5 421.5h2.5M224.5 421.5h-2.5M45.5 424.5h2.5M224.5 424.5h-2.5M45.5 428.5h2.5M224.5 428.5h-2.5M45.5 431.5h4.5M224.5 431.5h-4.5M90.5 263.5v4M90.5 431.5v-4M134.5 263.5v4M134.5 431.5v-4M179.5 263.5v4" stroke="#000" stroke-width="1" fill="none"/>
<text x="22.0" y="270.8" font-size="11" textLength="19.0" lengthAdjust="spacingAndGlyphs">110</text>
<text x="22.0" y="301.1" font-size="11" textLength="19.0" lengthAdjust="spacingAndGlyphs">100</text>
<text x="28.0" y="334.7" font-size="11" textLength="13.0" lengthAdjust="spacingAndGlyphs">90</text>
<text x="28.0" y="368.3" font-size="11" textLength="13.0" lengthAdjust="spacingAndGlyphs">80</text>
<text x="28.0" y="401.9" font-size="11" textLength="13.0" lengthAdjust="spacingAndGlyphs">70</text>
<text x="28.0" y="431.8" font-size="11" textLength="13.0" lengthAdjust="spacingAndGlyphs">60</text>
<text x="34.5" y="446.7" font-size="11" textLength="21.0" lengthAdjust="spacingAndGlyphs">−90</text>
<text x="87.5" y="446.7" font-size="11" textLength="6.0" lengthAdjust="spacingAndGlyphs">0</text>
<text x="128.8" y="446.7" font-size="11" textLength="13.0" lengthAdjust="spacingAndGlyphs">90</text>
<text x="177.1" y="446.7" font-size="11" textLength="6.0" lengthAdjust="spacingAndGlyphs">0</text>
<text x="213.5" y="446.7" font-size="11" textLength="21.0" lengthAdjust="spacingAndGlyphs">−90</text>
<text y="460.2" font-size="11"><tspan x="108.8" textLength="15.7" lengthAdjust="spacingAndGlyphs">Lat</tspan> <tspan x="131.8" textLength="28.8" lengthAdjust="spacingAndGlyphs">(deg)</tspan></text>
<text y="11.0" font-size="11" transform="rotate(-90)"><tspan x="-385.2" textLength="41.3" lengthAdjust="spacingAndGlyphs">Altitude</tspan> <tspan x="-334.7" textLength="22.9" lengthAdjust="spacingAndGlyphs">(km)</tspan></text>
<text y="257.6" font-size="14"><tspan x="35.5" textLength="67.0" lengthAdjust="spacingAndGlyphs">Meridional</tspan> <tspan x="112.5" textLength="36.0" lengthAdjust="spacingAndGlyphs">Winds</tspan> <tspan x="159.5" textLength="31.8" lengthAdjust="spacingAndGlyphs">(cold</tspan> <tspan x="201.2" textLength="31.8" lengthAdjust="spacingAndGlyphs">side)</tspan></text>
<rect x="250.5" y="263.5" width="18" height="168" fill="url(#cb)" stroke="#000" stroke-width="1"/>
<path d="M268.5 284.5h-5M268.5 305.5h-5M268.5 326.5h-5M268.5 347.5h-5M268.5 368.5h-5M268.5 389.5h-5M268.5 410.5h-5" stroke="#000" stroke-width="1" fill="none"/>
<text x="279.8" y="265.5" font-size="11" textLength="31.0" lengthAdjust="spacingAndGlyphs">200.0</text>
<text x="279.8" y="286.5" font-size="11" textLength="31.0" lengthAdjust="spacingAndGlyphs">150.0</text>
<text x="279.8" y="307.5" font-size="11" textLength="31.0" lengthAdjust="spacingAndGlyphs">100.0</text>
<text x="285.2" y="328.5" font-size="11" textLength="24.4" lengthAdjust="spacingAndGlyphs">50.0</text>
<text x="290.6" y="349.5" font-size="11" textLength="17.3" lengthAdjust="spacingAndGlyphs">0.0</text>
<text x="279.7" y="370.5" font-size="11" textLength="33.3" lengthAdjust="spacingAndGlyphs">−50.0</text>
<text x="274.4" y="391.5" font-size="11" textLength="39.6" lengthAdjust="spacingAndGlyphs">−100.0</text>
<text x="274.4" y="412.5" font-size="11" textLength="39.6" lengthAdjust="spacingAndGlyphs">−150.0</text>
<text x="274.4" y="433.5" font-size="11" textLength="39.6" lengthAdjust="spacingAndGlyphs">−200.0</text>
</g>
<g id="p4">
<clipPath id="cp4"><rect x="365.5" y="263.5" width="179" height="168"/></clipPath>
<g clip-path="url(#cp4)" shape-rendering="auto" stroke-linejoin="round">
<rect x="365" y="263.5" width="15.70" height="168.00" fill="#a4a4a4"/>
<rect x="528" y="263.5" width="17.00" height="168.00" fill="#a4a4a4"/>
<path d="M382.0 277.5 L383.5 282.0 L383.8 290.0 L383.0 294.0 L382.0 294.0Z" fill="#c9e7ff" stroke="#000" stroke-width="1"/>
<rect x="381.2" y="274.4" width="1.20" height="33.10" fill="#000"/>
<path d="M393.1 289.4 L401.2 288.8 L407.5 289.4 L415.0 288.1 L418.8 289.4 L432.5 289.4 L435.0 291.2 L439.4 290.0 L446.2 290.0 L448.8 293.8 L450.0 301.2 L451.9 310.0 L452.8 320.0 L453.1 337.5 L451.9 346.2 L449.4 351.2 L447.5 346.2 L445.6 352.5 L437.5 353.8 L435.0 353.1 L432.5 355.0 L390.0 355.0 L388.5 350.0 L387.8 331.2 L388.1 318.8 L388.5 303.8 L389.4 297.5 L391.9 293.8Z" fill="#c9e7ff" stroke="#000" stroke-width="1"/>
<path d="M396.9 296.2 L403.1 295.0 L406.9 295.6 L409.4 298.1 L415.0 296.2 L421.2 297.5 L425.0 296.9 L428.8 299.4 L430.6 306.2 L432.5 312.5 L431.2 325.0 L430.0 335.0 L428.8 340.0 L425.0 343.1 L420.0 345.6 L415.0 347.5 L408.8 348.1 L403.8 351.2 L397.5 349.4 L395.0 345.0 L392.2 337.5 L391.2 325.0 L391.9 312.5 L392.8 307.5 L394.4 300.0Z" fill="#96cfff" stroke="#000" stroke-width="1"/>
<path d="M398.8 301.9 L403.1 300.6 L406.9 301.9 L410.0 306.9 L415.0 302.5 L418.1 304.4 L421.2 307.5 L425.6 305.6 L427.5 310.0 L428.1 320.0 L428.1 328.8 L425.0 333.8 L418.8 338.8 L413.8 337.5 L410.0 338.8 L407.5 343.1 L402.5 346.2 L397.5 342.5 L394.4 336.2 L393.1 325.0 L393.5 314.0 L395.0 310.0 L396.2 306.2Z" fill="#5cb6ff" stroke="#000" stroke-width="1"/>
<path d="M400.0 308.1 L403.1 306.2 L406.2 307.5 L408.1 312.5 L409.4 320.0 L409.4 327.0 L407.5 336.2 L405.0 341.2 L401.2 341.2 L397.5 336.2 L395.6 327.5 L395.6 316.2 L397.5 311.0Z" fill="#24a0ff" stroke="#000" stroke-width="1"/>
<path d="M401.9 311.2 L404.4 311.9 L406.9 316.0 L408.1 322.5 L406.9 332.5 L404.4 337.5 L400.6 336.2 L398.1 330.0 L398.1 318.8 L400.0 313.0Z" fill="#0488ff" stroke="#000" stroke-width="1"/>
<path d="M402.5 316.5 L405.0 318.5 L406.9 323.0 L406.2 330.4 L403.8 334.1 L401.2 332.2 L400.3 323.5 L401.0 318.5Z" fill="#0874ff" stroke="#000" stroke-width="1"/>
<path d="M401.9 322.2 L404.4 324.1 L406.2 327.9 L405.0 332.9 L402.5 331.6Z" fill="#0a62f8" stroke="#000" stroke-width="1"/>
<path d="M408.0 318.0 L409.2 318.5 L409.4 325.0 L408.4 328.0 L407.8 324.0Z" fill="#000"/>
<rect x="391.3" y="318.75" width="1.10" height="7.50" fill="#000"/>
<path d="M411.2 312.5 L415.0 309.4 L418.5 312.5 L418.8 331.2 L415.0 331.2 L413.1 323.8 L410.6 316.2Z" fill="#24a0ff" stroke="#000" stroke-width="1"/>
<path d="M443.8 302.5 L445.6 306.2 L446.9 315.0 L446.9 331.2 L445.0 338.8 L442.5 341.2 L440.0 338.8 L438.8 325.0 L439.0 310.0 L441.2 305.0Z" fill="#96cfff" stroke="#000" stroke-width="1"/>
<path d="M443.8 311.2 L445.0 315.0 L444.8 328.8 L443.1 331.9 L441.9 327.5 L441.9 316.2Z" fill="#5cb6ff" stroke="#000" stroke-width="1"/>
<rect x="443.2" y="312" width="1.10" height="18.00" fill="#000"/>
<rect x="453.2" y="263.5" width="1.80" height="72.50" fill="#b4bcc8"/>
<rect x="453" y="336" width="2.00" height="95.50" fill="#a4a4a4"/>
<rect x="455" y="336" width="1.00" height="95.50" fill="#c4e4ff"/>
<path d="M459.0 262.0 L528.0 262.0 L527.5 340.0 L526.9 356.2 L525.6 362.5 L523.1 371.2 L520.0 375.6 L505.0 375.6 L501.2 372.2 L496.2 373.1 L491.2 375.0 L483.8 376.2 L476.2 378.8 L472.5 380.6 L469.4 375.0 L466.2 367.5 L462.5 369.4 L459.4 367.5 L457.5 358.8 L457.5 343.8 L459.0 335.0Z" fill="#ffe6c8" stroke="#000" stroke-width="1"/>
<path d="M459.5 262.0 L527.5 262.0 L526.2 340.0 L525.6 352.5 L524.4 358.8 L521.2 366.2 L516.2 370.0 L505.6 370.0 L501.2 366.0 L496.2 367.5 L491.2 369.4 L483.8 371.2 L477.5 373.1 L472.5 375.6 L468.8 368.8 L465.6 360.0 L461.9 363.1 L458.8 361.2 L458.5 345.0 L459.5 335.0Z" fill="#ffcf94" stroke="#000" stroke-width="1"/>
<path d="M459.8 262.0 L524.0 262.0 L525.0 285.0 L524.5 320.0 L524.8 340.0 L524.4 346.2 L523.1 353.8 L520.0 360.0 L513.8 364.4 L510.0 363.1 L505.0 362.0 L501.2 360.0 L496.2 361.2 L491.2 363.1 L483.8 365.6 L477.5 368.1 L471.2 369.4 L468.8 361.2 L466.2 352.5 L461.9 356.2 L459.5 355.0 L459.8 335.0Z" fill="#ffb85e" stroke="#000" stroke-width="1"/>
<path d="M462.5 262.0 L504.4 262.0 L508.1 272.5 L513.1 278.8 L514.4 291.2 L515.6 301.2 L514.4 310.0 L512.5 317.5 L509.4 311.2 L503.8 307.5 L501.2 300.0 L500.6 297.5 L496.9 291.2 L493.8 298.8 L492.5 300.0 L490.6 312.5 L491.2 325.0 L493.1 336.2 L495.0 342.5 L495.6 346.2 L495.5 355.6 L490.0 357.5 L483.8 360.0 L477.5 362.5 L472.5 363.8 L471.5 362.0 L470.8 352.8 L468.8 341.2 L466.9 331.2 L465.0 321.2 L462.5 316.2 L461.5 300.0 L462.3 290.0Z" fill="#ffa028" stroke="#000" stroke-width="1"/>
<path d="M495.0 262.0 L497.5 272.5 L500.0 267.5 L501.9 262.0Z" fill="#ffb85e" stroke="#000" stroke-width="1"/>
<path d="M513.1 262.0 L516.2 272.5 L518.8 279.4 L520.6 272.5 L522.5 262.0Z" fill="#ffcf94" stroke="#000" stroke-width="1"/>
<path d="M468.1 262.0 L480.0 262.0 L481.9 278.8 L482.5 297.5 L480.6 308.8 L478.8 302.5 L476.2 291.2 L472.5 283.8 L468.8 276.2 L467.5 267.5Z" fill="#ff8800" stroke="#000" stroke-width="1"/>
<path d="M481.9 340.6 L484.4 343.1 L486.2 350.0 L486.2 355.0 L480.0 356.2 L476.2 354.4 L476.9 348.8 L479.4 342.5Z" fill="#ff8800" stroke="#000" stroke-width="1"/>
<path d="M512.5 338.1 L515.0 343.8 L516.9 352.5 L514.4 356.9 L508.8 358.1 L505.0 355.0 L505.6 347.5 L508.1 342.5Z" fill="#ffa028" stroke="#000" stroke-width="1"/>
<path d="M472.2 344.0 L472.6 347.5" fill="none" stroke="#000" stroke-width="1"/>
<rect x="455.8" y="263.5" width="3.50" height="71.50" fill="#000"/>
<path d="M456.5 335.0 L456.5 362.0" fill="none" stroke="#000" stroke-width="1"/>
<rect x="525.3" y="263.5" width="2.80" height="70.50" fill="#000"/>
<path d="M527.5 334.0 L527.5 388.0" fill="none" stroke="#000" stroke-width="1"/>
<path d="M527.5 366.9 L528.1 388.8 L523.8 387.5 L522.5 380.0 L525.0 376.2 L526.9 368.8Z" fill="#c9e7ff" stroke="#000" stroke-width="1"/>
</g>
<path d="M365.5 431.5V263.5H544.5V431.5M365.5 431.5H455M528 431.5H544.5" fill="none" stroke="#000" stroke-width="1" stroke-linecap="square"/>
<path d="M365.5 263.5h4.5M544.5 263.5h-4.5M365.5 266.5h2.5M544.5 266.5h-2.5M365.5 270.5h2.5M544.5 270.5h-2.5M365.5 273.5h2.5M544.5 273.5h-2.5M365.5 276.5h2.5M544.5 276.5h-2.5M365.5 280.5h2.5M544.5 280.5h-2.5M365.5 283.5h2.5M544.5 283.5h-2.5M365.5 287.5h2.5M544.5 287.5h-2.5M365.5 290.5h2.5M544.5 290.5h-2.5M365.5 293.5h2.5M544.5 293.5h-2.5M365.5 297.5h4.5M544.5 297.5h-4.5M365.5 300.5h2.5M544.5 300.5h-2.5M365.5 303.5h2.5M544.5 303.5h-2.5M365.5 307.5h2.5M544.5 307.5h-2.5M365.5 310.5h2.5M544.5 310.5h-2.5M365.5 313.5h2.5M544.5 313.5h-2.5M365.5 317.5h2.5M544.5 317.5h-2.5M365.5 320.5h2.5M544.5 320.5h-2.5M365.5 323.5h2.5M544.5 323.5h-2.5M365.5 327.5h2.5M544.5 327.5h-2.5M365.5 330.5h4.5M544.5 330.5h-4.5M365.5 334.5h2.5M544.5 334.5h-2.5M365.5 337.5h2.5M544.5 337.5h-2.5M365.5 340.5h2.5M544.5 340.5h-2.5M365.5 344.5h2.5M544.5 344.5h-2.5M365.5 347.5h2.5M544.5 347.5h-2.5M365.5 350.5h2.5M544.5 350.5h-2.5M365.5 354.5h2.5M544.5 354.5h-2.5M365.5 357.5h2.5M544.5 357.5h-2.5M365.5 360.5h2.5M544.5 360.5h-2.5M365.5 364.5h4.5M544.5 364.5h-4.5M365.5 367.5h2.5M544.5 367.5h-2.5M365.5 371.5h2.5M544.5 371.5h-2.5M365.5 374.5h2.5M544.5 374.5h-2.5M365.5 377.5h2.5M544.5 377.5h-2.5M365.5 381.5h2.5M544.5 381.5h-2.5M365.5 384.5h2.5M544.5 384.5h-2.5M365.5 387.5h2.5M544.5 387.5h-2.5M365.5 391.5h2.5M544.5 391.5h-2.5M365.5 394.5h2.5M544.5 394.5h-2.5M365.5 397.5h4.5M544.5 397.5h-4.5M365.5 401.5h2.5M544.5 401.5h-2.5M365.5 404.5h2.5M544.5 404.5h-2.5M365.5 407.5h2.5M544.5 407.5h-2.5M365.5 411.5h2.5M544.5 411.5h-2.5M365.5 414.5h2.5M544.5 414.5h-2.5M365.5 418.5h2.5M544.5 418.5h-2.5M365.5 421.5h2.5M544.5 421.5h-2.5M365.5 424.5h2.5M544.5 424.5h-2.5M365.5 428.5h2.5M544.5 428.5h-2.5M365.5 431.5h4.5M544.5 431.5h-4.5M410.5 263.5v4M410.5 431.5v-4M454.5 263.5v4M454.5 431.5v-4M499.5 263.5v4" stroke="#000" stroke-width="1" fill="none"/>
<text x="342.0" y="270.8" font-size="11" textLength="19.0" lengthAdjust="spacingAndGlyphs">110</text>
<text x="342.0" y="301.1" font-size="11" textLength="19.0" lengthAdjust="spacingAndGlyphs">100</text>
<text x="348.0" y="334.7" font-size="11" textLength="13.0" lengthAdjust="spacingAndGlyphs">90</text>
<text x="348.0" y="368.3" font-size="11" textLength="13.0" lengthAdjust="spacingAndGlyphs">80</text>
<text x="348.0" y="401.9" font-size="11" textLength="13.0" lengthAdjust="spacingAndGlyphs">70</text>
<text x="348.0" y="431.8" font-size="11" textLength="13.0" lengthAdjust="spacingAndGlyphs">60</text>
<text x="354.5" y="446.7" font-size="11" textLength="21.0" lengthAdjust="spacingAndGlyphs">−90</text>
<text x="407.6" y="446.7" font-size="11" textLength="6.0" lengthAdjust="spacingAndGlyphs">0</text>
<text x="448.8" y="446.7" font-size="11" textLength="13.0" lengthAdjust="spacingAndGlyphs">90</text>
<text x="497.1" y="446.7" font-size="11" textLength="6.0" lengthAdjust="spacingAndGlyphs">0</text>
<text x="533.5" y="446.7" font-size="11" textLength="21.0" lengthAdjust="spacingAndGlyphs">−90</text>
<text y="460.2" font-size="11"><tspan x="428.8" textLength="15.7" lengthAdjust="spacingAndGlyphs">Lat</tspan> <tspan x="451.8" textLength="28.8" lengthAdjust="spacingAndGlyphs">(deg)</tspan></text>
<text y="331.0" font-size="11" transform="rotate(-90)"><tspan x="-385.2" textLength="41.3" lengthAdjust="spacingAndGlyphs">Altitude</tspan> <tspan x="-334.7" textLength="22.9" lengthAdjust="spacingAndGlyphs">(km)</tspan></text>
<text y="257.6" font-size="14"><tspan x="372.0" textLength="34.0" lengthAdjust="spacingAndGlyphs">Zonal</tspan> <tspan x="417.0" textLength="36.0" lengthAdjust="spacingAndGlyphs">Winds</tspan> <tspan x="464.0" textLength="31.8" lengthAdjust="spacingAndGlyphs">(cold</tspan> <tspan x="505.8" textLength="31.8" lengthAdjust="spacingAndGlyphs">side)</tspan></text>
<rect x="563.5" y="263.5" width="18" height="168" fill="url(#cb)" stroke="#000" stroke-width="1"/>
<path d="M581.5 284.5h-5M581.5 305.5h-5M581.5 326.5h-5M581.5 347.5h-5M581.5 368.5h-5M581.5 389.5h-5M581.5 410.5h-5" stroke="#000" stroke-width="1" fill="none"/>
<text x="592.8" y="265.5" font-size="11" textLength="31.0" lengthAdjust="spacingAndGlyphs">200.0</text>
<text x="592.8" y="286.5" font-size="11" textLength="31.0" lengthAdjust="spacingAndGlyphs">150.0</text>
<text x="592.8" y="307.5" font-size="11" textLength="31.0" lengthAdjust="spacingAndGlyphs">100.0</text>
<text x="598.2" y="328.5" font-size="11" textLength="24.4" lengthAdjust="spacingAndGlyphs">50.0</text>
<text x="603.6" y="349.5" font-size="11" textLength="17.3" lengthAdjust="spacingAndGlyphs">0.0</text>
<text x="592.7" y="370.5" font-size="11" textLength="33.3" lengthAdjust="spacingAndGlyphs">−50.0</text>
<text x="587.4" y="391.5" font-size="11" textLength="39.6" lengthAdjust="spacingAndGlyphs">−100.0</text>
<text x="587.4" y="412.5" font-size="11" textLength="39.6" lengthAdjust="spacingAndGlyphs">−150.0</text>
<text x="587.4" y="433.5" font-size="11" textLength="39.6" lengthAdjust="spacingAndGlyphs">−200.0</text>
</g>
<text y="469.7" font-size="11"><tspan x="289.2" textLength="47.8" lengthAdjust="spacingAndGlyphs">2007310</tspan> <tspan x="345.5" textLength="12.5" lengthAdjust="spacingAndGlyphs">bb</tspan> <tspan x="364.0" textLength="37.8" lengthAdjust="spacingAndGlyphs">v03r04</tspan> <tspan x="416.6" textLength="23.4" lengthAdjust="spacingAndGlyphs">Beta</tspan> <tspan x="447.5" textLength="31.5" lengthAdjust="spacingAndGlyphs">Angle:</tspan> <tspan x="488.5" textLength="52.8" lengthAdjust="spacingAndGlyphs">−36.3094</tspan></text>
</svg>
</body></html>
